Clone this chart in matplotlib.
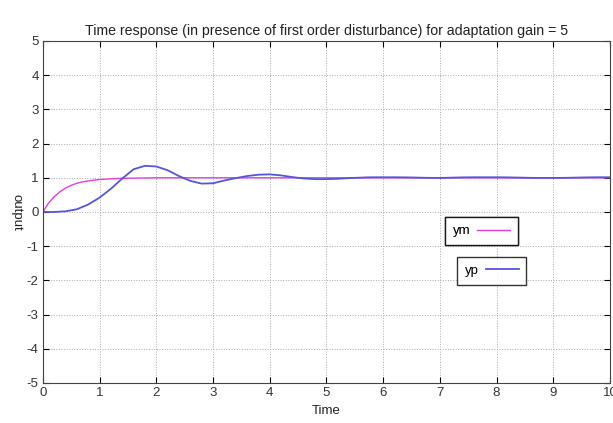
import matplotlib.pyplot as plt
import numpy as np

plt.rcParams['font.family'] = ['Liberation Sans', 'DejaVu Sans']
plt.rcParams['axes.unicode_minus'] = False

# reference model output ym
t_m = [0, 0.1, 0.2, 0.3, 0.4, 0.5, 0.6, 0.7, 0.8, 0.9, 1.0, 1.2, 1.4, 1.6, 2.0, 3.0, 10.0]
ym = [0, 0.26, 0.45, 0.59, 0.70, 0.78, 0.84, 0.88, 0.91, 0.93, 0.95, 0.97, 0.985, 0.99, 1.0, 1.0, 1.0]

# plant output yp
t_p = [0, 0.2, 0.4, 0.6, 0.8, 1.0, 1.2, 1.4, 1.6, 1.8, 2.0, 2.2, 2.4, 2.6, 2.8, 3.0,
       3.2, 3.4, 3.6, 3.8, 4.0, 4.2, 4.4, 4.6, 4.8, 5.0, 5.2, 5.4, 5.6, 5.8, 6.0, 6.2,
       6.4, 6.6, 6.8, 7.0, 7.2, 7.4, 7.6, 7.8, 8.0, 8.2, 8.4, 8.6, 8.8, 9.0, 9.2, 9.4,
       9.6, 9.8, 10.0]
yp = [0, 0.0, 0.02, 0.08, 0.22, 0.42, 0.68, 0.98, 1.25, 1.35, 1.33, 1.22, 1.05, 0.91, 0.83, 0.84,
      0.92, 0.99, 1.05, 1.09, 1.10, 1.07, 1.02, 0.98, 0.96, 0.96, 0.97, 0.99, 1.005, 1.015, 1.015, 1.015,
      1.012, 1.005, 0.998, 0.996, 1.003, 1.012, 1.015, 1.015, 1.015, 1.012, 1.005, 0.998, 0.995, 0.996, 0.998, 1.005,
      1.012, 1.015, 1.015]

fig = plt.figure(figsize=(6.13, 4.23), dpi=100)
ax = fig.add_axes([0.070, 0.0946, 0.925, 0.8085])

line_m, = ax.plot(t_m, ym, color='#e040e0', lw=1.0)
line_p, = ax.plot(t_p, yp, color='#5555dd', lw=1.3)

ax.set_xlim(0, 10)
ax.set_ylim(-5, 5)
ax.set_xticks(range(0, 11))
ax.set_yticks(range(-5, 6))
ax.grid(True, linestyle=':', color='#aaaaaa', lw=0.7)
ax.tick_params(direction='in', top=True, right=True, labelsize=9.5, length=4, pad=3,
               labelcolor='#333333')
for s in ax.spines.values():
    s.set_color('#444444')

ax.set_title('Time response (in presence of first order disturbance) for adaptation gain = 5',
             fontsize=10.2, pad=4, color='#222222')
ax.set_xlabel('Time', fontsize=9.5, labelpad=4, color='#222222')
ax.set_ylabel('output', fontsize=9.5, rotation=270, labelpad=12, color='#222222')

leg1 = fig.legend([line_m], ['ym'], loc='upper left', bbox_to_anchor=(0.715, 0.502),
                  fontsize=9.5, frameon=True, fancybox=False, edgecolor='black',
                  markerfirst=False, handlelength=2.5, borderpad=0.6, handletextpad=0.5)
leg1.get_frame().set_linewidth(1.0)
fig.add_artist(leg1)
leg2 = fig.legend([line_p], ['yp'], loc='upper left', bbox_to_anchor=(0.735, 0.409),
                  fontsize=9.5, frameon=True, fancybox=False, edgecolor='black',
                  markerfirst=False, handlelength=2.5, borderpad=0.6, handletextpad=0.5)
leg2.get_frame().set_linewidth(1.0)

fig.savefig('out.png', dpi=100)
